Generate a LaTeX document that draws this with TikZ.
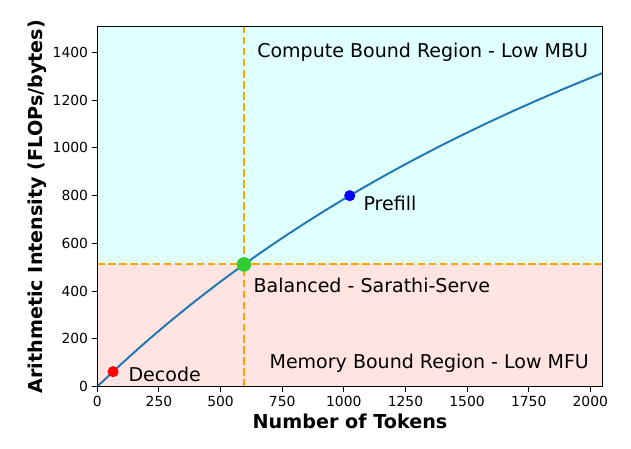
\documentclass[tikz,border=0pt]{standalone}
\usepackage{fontspec}
\setmainfont{DejaVu Sans}
\definecolor{curveblue}{HTML}{1F77B4}
\definecolor{regtop}{HTML}{E0FFFF}
\definecolor{regbot}{HTML}{FFE4E1}
\definecolor{dashor}{HTML}{FFA500}
\definecolor{balgreen}{HTML}{32CD32}
\begin{document}
\begin{tikzpicture}[x=0.72pt,y=-0.72pt,
  ticklab/.style={font=\fontsize{10}{12}\selectfont,inner sep=0pt},
  annot/.style={font=\fontsize{13.7}{16}\selectfont,inner sep=0pt,anchor=base west},
  axlab/.style={font=\fontsize{13.8}{16}\selectfont\bfseries,inner sep=0pt},
  dot/.style={circle,inner sep=0pt,minimum size=#1},
  guide/.style={dashor,line width=1.5pt,dash pattern=on 5.55pt off 2.4pt},
  tickmark/.style={line width=0.8pt,black}]
\useasboundingbox (0,0) rectangle (631,449);
% axes frame corners
\coordinate (LL) at (97.3,386.7);
\coordinate (UR) at (602.7,26.7);
\begin{scope}[shift={(97.3,386.7)},xscale=0.2465,yscale=-0.2388]
  \fill[regtop] (0,512) rectangle (2050,1507.5);
  \fill[regbot] (0,0) rectangle (2050,512);
  \coordinate (vb) at (595,0);
  \coordinate (vt) at (595,1507.5);
  \coordinate (hl) at (0,512);
  \coordinate (hr) at (2050,512);
  \draw[guide] (vb) -- (vt);
  \draw[guide] (hl) -- (hr);
  \draw[curveblue,line width=1.4pt] plot[domain=0:2050,samples=120] (\x,{\x/(1+\x/3657)});
  \coordinate (pdec) at (64,{64/(1+64/3657)});
  \coordinate (pbal) at (595,512);
  \coordinate (ppre) at (1024,800);
  \foreach \t in {0,250,...,2000} {
    \coordinate (xt\t) at (\t,0);
  }
  \foreach \t in {0,200,...,1400} {
    \coordinate (yt\t) at (0,\t);
  }
\end{scope}
\node[dot=8pt,fill=red] (decode) at (pdec) {};
\node[dot=8pt,fill=blue] (prefill) at (ppre) {};
\node[dot=10.5pt,fill=balgreen] (balanced) at (pbal) {};
\draw[line width=0.8pt,black] (LL) rectangle (UR);
\foreach \t in {0,250,...,2000} {
  \draw[tickmark] (xt\t) -- ++(0,4.9);
  \node[ticklab,anchor=base] (xl\t) at ([yshift=-19.5*0.72pt]xt\t) {\t};
}
\foreach \t in {0,200,...,1400} {
  \draw[tickmark] (yt\t) -- ++(-4.9,0);
  \node[ticklab,anchor=east] (yl\t) at ([xshift=-9*0.72pt]yt\t) {\t};
}
\node[annot] (tcomp) at (257,57.3) {Compute Bound Region - Low MBU};
\node[annot] (tmem) at (269.3,368.3) {Memory Bound Region - Low MFU};
\node[annot] (tpre) at (363.3,210.7) {Prefill};
\node[annot] (tbal) at (253.3,292.7) {Balanced - Sarathi-Serve};
\node[annot] (tdec) at (128.3,381.7) {Decode};
\node[axlab,anchor=base] (xlab) at (350,428.3) {Number of Tokens};
\node[axlab,anchor=base,rotate=90] (ylab) at (42.5,206.7) {Arithmetic Intensity (FLOPs/bytes)};
\end{tikzpicture}
\end{document}
